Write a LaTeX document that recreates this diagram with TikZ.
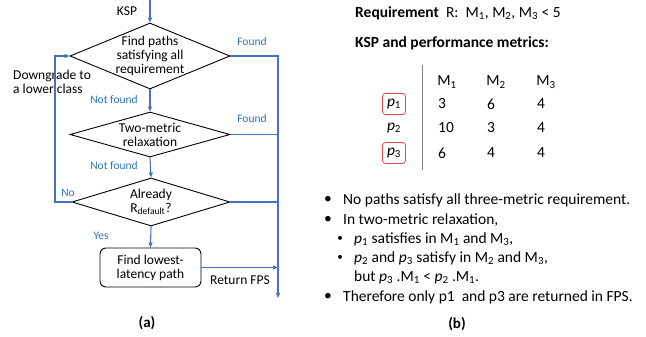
\documentclass[tikz,border=0pt]{standalone}
\usepackage{fontspec}
\setmainfont{Carlito}
\usetikzlibrary{shapes.geometric,arrows.meta}
\definecolor{flowblue}{HTML}{4472C4}
\definecolor{labelblue}{HTML}{2E75B6}
\definecolor{pickred}{HTML}{E04848}
\newcommand{\subs}[1]{\textsubscript{#1}}
\begin{document}
\begin{tikzpicture}[x=1pt,y=-1pt,
  txt/.style={font=\fontsize{13.5}{14}\selectfont, inner sep=0pt, align=center},
  big/.style={font=\fontsize{15.5}{16}\selectfont, inner sep=0pt, align=center},
  decision/.style={txt, draw, diamond, aspect=2.4, inner sep=-8pt, line width=0.9pt},
  flow/.style={draw=flowblue, line width=1.1pt},
  tip/.style={-{Triangle[length=5pt,width=4pt]}},
  lab/.style={font=\fontsize{11.5}{12}\selectfont, text=labelblue, inner sep=0pt},
  pick/.style={draw=pickred, rounded corners=3pt, line width=0.8pt, minimum width=23pt, minimum height=21pt}]
\useasboundingbox (0,0) rectangle (646,337);

% (a) flow chart
\coordinate (ksp) at (150,0);
\coordinate (out) at (278,298);
\coordinate (back) at (55,202);
\node[decision, minimum width=160pt, minimum height=66pt] (find) at (150,56) {Find paths\\satisfying all\\requirement};
\node[decision, minimum width=160pt, minimum height=45pt] (relax) at (150,134.5) {Two-metric\\relaxation};
\node[decision, minimum width=158pt, minimum height=48pt] (check) at (151,202) {Already\\R\subs{default}?};
\node[txt, draw, rounded corners=6pt, line width=0.9pt, minimum width=101pt, minimum height=39pt] (lowest) at (150.5,267.5) {Find lowest-\\latency path};

\node[txt] (kspl) at (127,11) {KSP};
\node[txt, align=left, anchor=west] (down) at (13,82) {Downgrade to\\a lower class};
\node[lab] (found1) at (252,42) {Found};
\node[lab] (found2) at (252,119) {Found};
\node[lab] (nf1) at (114,100) {Not found};
\node[lab] (nf2) at (114,166) {Not found};
\node[lab] (no) at (68,193) {No};
\node[lab] (yes) at (101,236) {Yes};
\node[txt] (ret) at (240,280) {Return FPS};
\node[big, font=\fontsize{15}{15}\bfseries] (capa) at (147,323) {(a)};

\path[flow,tip] (ksp) -- (find.north);
\path[flow,tip] (find.south) -- (relax.north);
\path[flow,tip] (relax.south) -- (check.north);
\path[flow,tip] (check.south) -- (lowest.north);
\path[flow,tip] (find.east) -| (out);
\path[flow] (relax.east) -- (relax.east -| out);
\path[flow] (check.east) -- (check.east -| out);
\path[flow,tip] (lowest.east) -- (lowest.east -| out);
\path[flow,tip] (check.west) -- (back) |- (find.west);

% (b) example
\node[big, anchor=west] (req) at (355,13) {\textbf{Requirement}\ \ R:\ \ M\subs{1}, M\subs{2}, M\subs{3} < 5};
\node[big, anchor=west, font=\fontsize{15.5}{16}\bfseries] (kspm) at (355,43) {KSP and performance metrics:};

\coordinate (bar top) at (422,65);
\coordinate (bar bot) at (422,170);
\path[draw,gray,line width=0.8pt] (bar top) -- (bar bot);

\node[big] (m1) at (447,82) {M\subs{1}};
\node[big] (m2) at (496,82) {M\subs{2}};
\node[big] (m3) at (546,82) {M\subs{3}};

\node[big, pick] (p1) at (394,104) {\textit{p}\subs{1}};
\node[big] (p2) at (394,128) {\textit{p}\subs{2}};
\node[big, pick] (p3) at (394,153) {\textit{p}\subs{3}};

\node[big, anchor=west] (a11) at (438,104) {3};
\node[big, anchor=west] (a12) at (487,104) {6};
\node[big, anchor=west] (a13) at (537,104) {4};
\node[big, anchor=west] (a21) at (438,128) {10};
\node[big, anchor=west] (a22) at (487,128) {3};
\node[big, anchor=west] (a23) at (537,128) {4};
\node[big, anchor=west] (a31) at (438,153) {6};
\node[big, anchor=west] (a32) at (487,153) {4};
\node[big, anchor=west] (a33) at (537,153) {4};

\node[big] (b1) at (328,200) {•};
\node[big, anchor=west] (t1) at (343,200) {No paths satisfy all three-metric requirement.};
\node[big] (b2) at (328,220) {•};
\node[big, anchor=west] (t2) at (343,220) {In two-metric relaxation,};
\node[big, font=\fontsize{11}{11}\selectfont] (b3) at (340,239) {•};
\node[big, anchor=west] (t3) at (354,239) {\textit{p}\subs{1} satisfies in M\subs{1} and M\subs{3},};
\node[big, font=\fontsize{11}{11}\selectfont] (b4) at (340,258) {•};
\node[big, anchor=west] (t4) at (354,258) {\textit{p}\subs{2} and \textit{p}\subs{3} satisfy in M\subs{2} and M\subs{3},};
\node[big, anchor=west] (t5) at (354,277) {but \textit{p}\subs{3} .M\subs{1} < \textit{p}\subs{2} .M\subs{1}.};
\node[big] (b6) at (328,297) {•};
\node[big, anchor=west] (t6) at (343,297) {Therefore only p1\ \ and p3 are returned in FPS.};
\node[big, font=\fontsize{15}{15}\bfseries] (capb) at (457,324) {(b)};
\end{tikzpicture}
\end{document}
